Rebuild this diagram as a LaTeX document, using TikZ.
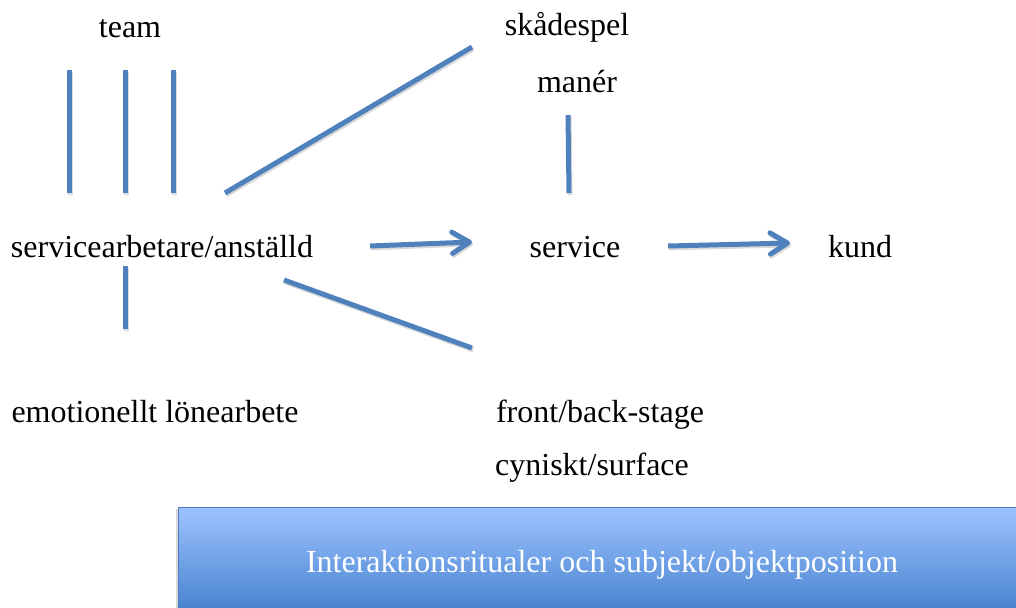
\documentclass[tikz,border=0pt]{standalone}
\usepackage{fontspec}
\setmainfont{Liberation Serif}
\usetikzlibrary{arrows.meta,shadows}
\definecolor{linkblue}{RGB}{79,129,189}
\definecolor{bannertop}{RGB}{157,195,255}
\definecolor{bannerbot}{RGB}{60,122,202}
\definecolor{bannerrim}{RGB}{80,125,185}
\begin{document}
\begin{tikzpicture}[x=0.75pt,y=-0.75pt,
word/.style={anchor=base, inner sep=0pt, font=\fontsize{24}{28}\selectfont},
link/.style={draw=linkblue, line width=3.75pt,
  preaction={draw=black, opacity=0.15, line width=3.75pt,
    transform canvas={shift={(0.8pt,-1.4pt)}}}},
arrow/.style={link, -{Straight Barb[length=13pt,width=16pt,round]}},
banner/.style={top color=bannertop, bottom color=bannerbot, draw=bannerrim,
  line width=0.6pt, drop shadow={shadow xshift=-1.5pt, shadow yshift=-1.5pt, opacity=0.3}},
]
\useasboundingbox (0,0) rectangle (1016,607);
\clip (0,0) rectangle (1016,607);

\node[word] (team) at (130,37) {team};
\node[word] (worker) at (162,257) {servicearbetare/anställd};
\node[word] (play) at (567,35) {skådespel};
\node[word] (manner) at (577,92) {manér};
\node[word] (service) at (575,257) {service};
\node[word] (kund) at (860,257) {kund};
\node[word] (emotion) at (155,422) {emotionellt lönearbete};
\node[word] (stage) at (600,422) {front/back-stage};
\node[word] (cynic) at (592,475) {cyniskt/surface};

\coordinate (t1) at (69,70);   \coordinate (w1) at (69,193);
\coordinate (t2) at (125,70);  \coordinate (w2) at (125,193);
\coordinate (t3) at (173,70);  \coordinate (w3) at (173,193);
\coordinate (w4) at (225,193); \coordinate (p1) at (472,47);
\coordinate (w5) at (125,266); \coordinate (e1) at (125,329);
\coordinate (w6) at (284,280); \coordinate (s1) at (472,348);
\coordinate (m1) at (568,115); \coordinate (s2) at (569,193);
\coordinate (w7) at (370,246); \coordinate (s3) at (472,242);
\coordinate (s4) at (668,246); \coordinate (k1) at (790,243);

\draw[link] (t1) -- (w1);
\draw[link] (t2) -- (w2);
\draw[link] (t3) -- (w3);
\draw[link] (w4) -- (p1);
\draw[link] (w5) -- (e1);
\draw[link] (w6) -- (s1);
\draw[link] (m1) -- (s2);
\draw[arrow] (w7) -- (s3);
\draw[arrow] (s4) -- (k1);

\path[banner] (178,507) rectangle (1026,625);
\node[word, text=white] (ritual) at (602,572) {Interaktionsritualer och subjekt/objektposition};
\end{tikzpicture}
\end{document}
